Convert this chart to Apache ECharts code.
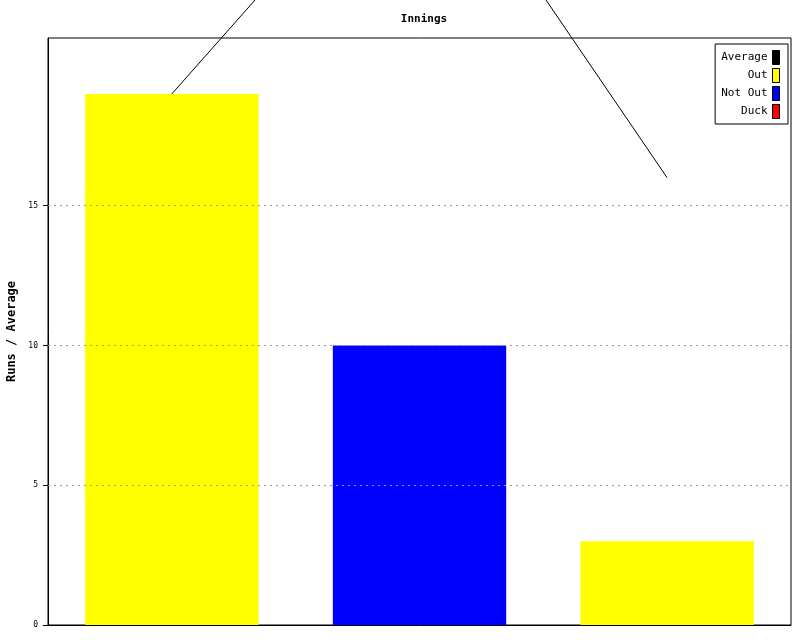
<!DOCTYPE html>
<html><head><meta charset="utf-8">
<script src="https://cdn.jsdelivr.net/npm/echarts@6/dist/echarts.min.js"></script>
<style>html,body{margin:0;padding:0;background:#fff}#c{width:800px;height:640px}</style>
</head><body><div id="c"></div>
<script>
var categories = ['1', '2', '3'];
var outRuns = [19, '-', 3];
var notOutRuns = ['-', 10, '-'];
var duckRuns = ['-', '-', '-'];
var average = [19, 29, 16];
var yTicks = [0, 5, 10, 15];
var gridValues = [5, 10, 15];

var font = '"DejaVu Sans Mono", monospace';
var chart = echarts.init(document.getElementById('c'), null, {renderer: 'canvas'});
chart.setOption({
  animation: false,
  backgroundColor: '#fff',
  title: {
    text: 'Innings', left: 419, textAlign: 'center', top: 9,
    textStyle: {fontFamily: font, fontSize: 11, fontWeight: 'bold', color: '#000'}
  },
  legend: {
    orient: 'vertical', right: 12, top: 44, align: 'right',
    backgroundColor: '#fff', borderColor: '#000', borderWidth: 1,
    padding: [6, 8, 5, 6], itemGap: 3, itemWidth: 7, itemHeight: 14, icon: 'rect',
    data: ['Average', 'Out', 'Not Out', 'Duck'],
    textStyle: {fontFamily: font, fontSize: 11, color: '#000', padding: [0, 0, 0, 0]},
    itemStyle: {borderColor: '#000', borderWidth: 1}
  },
  grid: {left: 48, right: 9, top: 38, bottom: 15, show: true, borderColor: '#000', borderWidth: 1,
    containLabel: false, outerBoundsMode: 'none'},
  xAxis: {
    type: 'category', data: categories,
    axisLine: {show: true, lineStyle: {color: '#000'}},
    axisTick: {show: false}, axisLabel: {show: false}, splitLine: {show: false}
  },
  yAxis: {
    type: 'value', min: 0, max: 21,
    name: 'Runs / Average', nameLocation: 'middle', nameGap: 26, nameRotate: 90,
    nameTextStyle: {fontFamily: font, fontSize: 12, fontWeight: 'bold', color: '#000'},
    axisLine: {show: true, lineStyle: {color: '#000'}},
    axisTick: {show: true, length: 5, lineStyle: {color: '#000'}, customValues: yTicks},
    axisLabel: {fontFamily: font, fontSize: 8, color: '#000', margin: 10, customValues: yTicks},
    splitLine: {show: false}
  },
  series: [
    {name: 'Average', type: 'line', data: average, clip: false, symbol: 'none', z: 5,
      lineStyle: {color: '#000', width: 1}, itemStyle: {color: '#000'},
      markLine: {silent: true, symbol: 'none', label: {show: false},
        lineStyle: {color: '#999', type: [2, 4], width: 1},
        data: gridValues.map(function (v) { return {yAxis: v}; })}},
    {name: 'Out', type: 'bar', stack: 'r', data: outRuns, barWidth: '70%', itemStyle: {color: '#ffff00'}},
    {name: 'Not Out', type: 'bar', stack: 'r', data: notOutRuns, barWidth: '70%', itemStyle: {color: '#0000ff'}},
    {name: 'Duck', type: 'bar', stack: 'r', data: duckRuns, barWidth: '70%', itemStyle: {color: '#ff0000'}}
  ]
});
</script></body></html>
